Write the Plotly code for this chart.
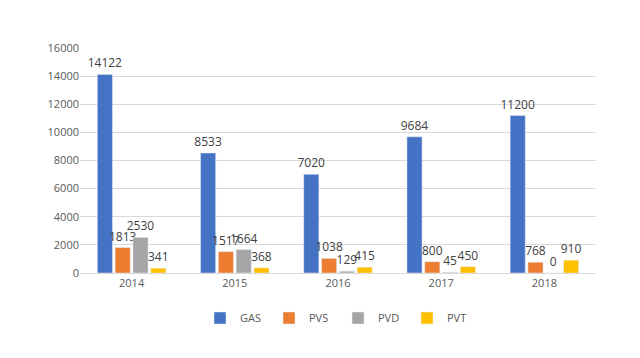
import plotly.graph_objects as go

years = ["2014", "2015", "2016", "2017", "2018"]
gas = [14122, 8533, 7020, 9684, 11200]
pvs = [1813, 1517, 1038, 800, 768]
pvd = [2530, 1664, 129, 45, 0]
pvt = [341, 368, 415, 450, 910]

series = [("GAS", gas, "#4472C4"), ("PVS", pvs, "#ED7D31"),
          ("PVD", pvd, "#A5A5A5"), ("PVT", pvt, "#FFC000")]

fig = go.Figure()
for name, vals, col in series:
    fig.add_trace(go.Bar(
        x=years, y=vals, name=name, marker_color=col,
        text=vals, texttemplate="%{text}", textposition="outside",
        constraintext="none", cliponaxis=False,
        textfont=dict(color="#404040", size=12),
    ))

fig.update_layout(
    width=640, height=358,
    margin=dict(l=72, r=52, t=40, b=93),
    paper_bgcolor="white", plot_bgcolor="white",
    font=dict(family="Open Sans", size=11, color="#595959"),
    barmode="group", bargap=0.31, bargroupgap=0.15,
    showlegend=True,
    legend=dict(orientation="h", x=0.5, xanchor="center", y=-0.2, yanchor="middle",
                itemwidth=30, entrywidth=24, entrywidthmode="pixels",
                font=dict(size=11, color="#595959")),
    xaxis=dict(showgrid=False, showline=True, linecolor="#d9d9d9", ticks=""),
    yaxis=dict(range=[0, 16000], dtick=2000, showgrid=True, gridcolor="#d9d9d9",
               zeroline=False, ticks="", tickformat="d"),
)

fig.write_html("out.html")
